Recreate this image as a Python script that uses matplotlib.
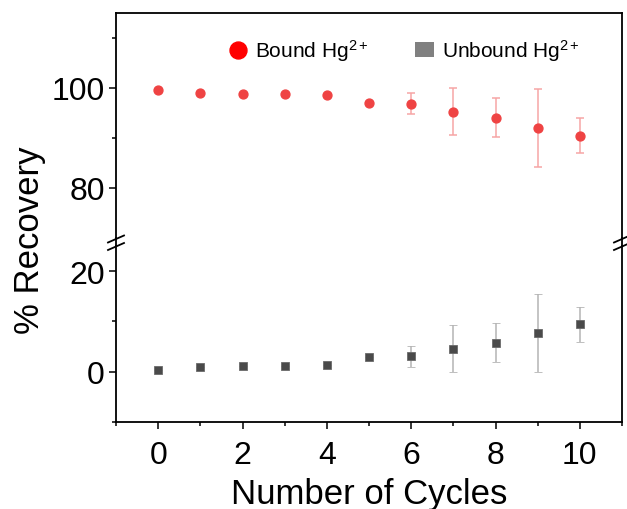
import matplotlib
matplotlib.use("Agg")
import matplotlib.pyplot as plt
from matplotlib.lines import Line2D
from matplotlib.patches import Rectangle
from matplotlib.ticker import FixedLocator

plt.rcParams['font.family'] = ['Liberation Sans', 'DejaVu Sans']
plt.rcParams['mathtext.fontset'] = 'custom'
plt.rcParams['mathtext.rm'] = 'Liberation Sans'
plt.rcParams['mathtext.it'] = 'Liberation Sans:italic'
plt.rcParams['mathtext.default'] = 'regular'

# Recovery data per regeneration cycle
cycles = [0, 1, 2, 3, 4, 5, 6, 7, 8, 9, 10]
bound = [99.7, 99.0, 98.8, 98.8, 98.6, 97.0, 96.9, 95.3, 94.1, 92.1, 90.5]
bound_err = [0, 0, 0, 0, 0, 0, 2.1, 4.7, 3.9, 7.8, 3.5]
unbound = [0.3, 0.9, 1.1, 1.2, 1.3, 2.9, 3.1, 4.6, 5.8, 7.7, 9.4]
unbound_err = [0, 0, 0, 0, 0, 0, 2.1, 4.7, 3.8, 7.7, 3.4]

x_ticks = [0, 2, 4, 6, 8, 10]
upper_ticks = [80, 100]
lower_ticks = [0, 20]

W, H = 627, 510
fig = plt.figure(figsize=(W / 100, H / 100), dpi=100)

left, right = 116 / W, 622 / W
ax_top = fig.add_axes([left, (H - 239) / H, right - left, (239 - 14) / H])
ax_bot = fig.add_axes([left, (H - 423) / H, right - left, (423 - 247) / H], sharex=ax_top)

red = '#ef4343'
red_err = '#f6a5a5'
gray = '#4a4a4a'
gray_err = '#b4b4b4'

ax_top.errorbar(cycles, bound, yerr=bound_err, fmt='o', color=red, ms=6.4,
                ecolor=red_err, elinewidth=1.1, capsize=3, capthick=1.1, zorder=3)
ax_bot.errorbar(cycles, unbound, yerr=unbound_err, fmt='s', color=gray, ms=5.6,
                mec='#6a6a6a', mew=0.6, ecolor=gray_err, elinewidth=1.1, capsize=3,
                capthick=1.1, zorder=3)

ax_top.set_ylim(70, 115)
ax_bot.set_ylim(-10, 25)
ax_bot.set_xlim(-1, 11)

lw = 1.3
for ax in (ax_top, ax_bot):
    for s in ax.spines.values():
        s.set_linewidth(lw)
    ax.tick_params(which='major', direction='out', length=5, width=1.1,
                   labelsize=23, pad=3)
    ax.tick_params(which='minor', direction='out', length=3, width=1.1)
    ax.tick_params(right=False, top=False, which='both')

ax_top.spines['bottom'].set_visible(False)
ax_bot.spines['top'].set_visible(False)
ax_top.tick_params(axis='x', which='both', bottom=False, labelbottom=False)

ax_top.yaxis.set_major_locator(FixedLocator(upper_ticks))
ax_top.yaxis.set_minor_locator(FixedLocator([90, 110]))
ax_bot.yaxis.set_major_locator(FixedLocator(lower_ticks))
ax_bot.yaxis.set_minor_locator(FixedLocator([-10, 10]))
ax_bot.xaxis.set_major_locator(FixedLocator(x_ticks))
ax_bot.xaxis.set_minor_locator(FixedLocator([-1, 1, 3, 5, 7, 9, 11]))
ax_bot.tick_params(axis='x', labelsize=23, pad=8)

ax_bot.set_xlabel('Number of Cycles', fontsize=25, labelpad=5)
fig.text(30 / W, 1 - 240 / H, '% Recovery', rotation=90, fontsize=25,
         ha='center', va='center')

# continuous side spines through the gap, plus break marks
y_gap_top = (H - 239) / H
y_gap_bot = (H - 247) / H
for xs in (left, right):
    fig.add_artist(Line2D([xs, xs], [y_gap_bot, y_gap_top], color='black',
                          lw=lw, transform=fig.transFigure))
    for yc in (240, 247.5):
        fig.add_artist(Line2D([xs - 8 / W, xs + 8 / W],
                              [1 - (yc + 3.5) / H, 1 - (yc - 3.5) / H],
                              color='black', lw=1.3, transform=fig.transFigure,
                              clip_on=False))

# legend
handles = [
    Line2D([], [], marker='o', ls='none', color='#ff0000', ms=12.2),
    Rectangle((0, 0), 1, 1, facecolor='#808080', edgecolor='none'),
]
labels = ['Bound Hg$^{2+}$', 'Unbound Hg$^{2+}$']
ax_top.legend(handles, labels, loc='upper right', bbox_to_anchor=(0.933, 0.93),
              ncol=2, frameon=False, fontsize=15, handlelength=0.91,
              handleheight=0.67, handletextpad=0.36, columnspacing=2.25,
              borderaxespad=0)

fig.savefig('out.png', dpi=100)
